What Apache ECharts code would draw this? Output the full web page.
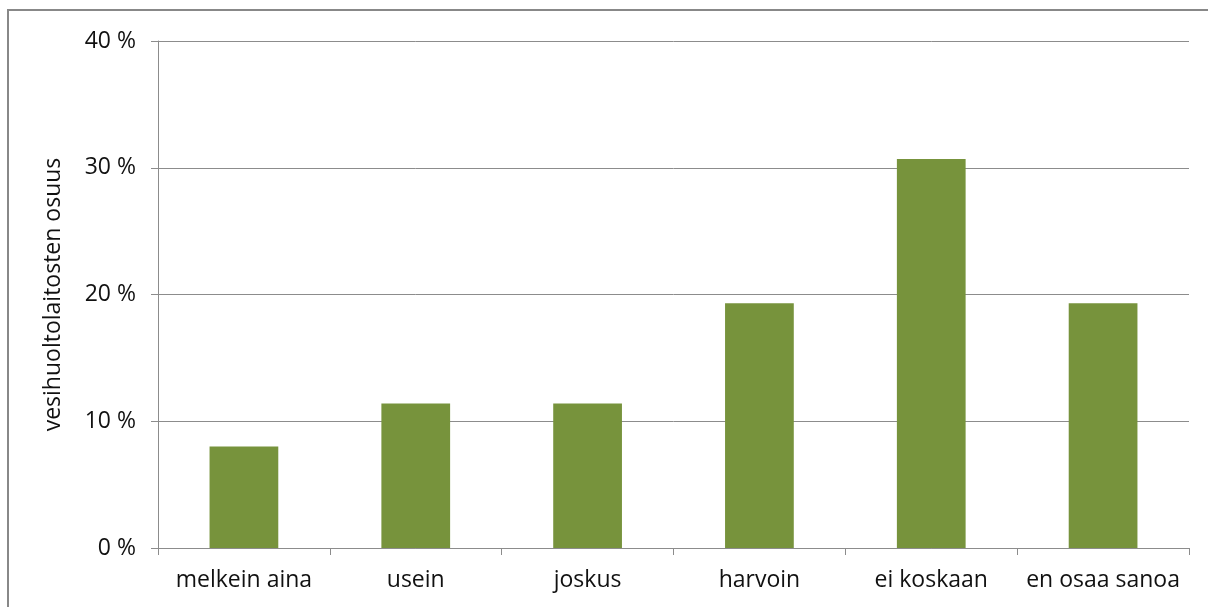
<!DOCTYPE html>
<html>
<head>
<meta charset="utf-8">
<script src="https://cdn.jsdelivr.net/npm/echarts@6/dist/echarts.min.js"></script>
<style>
  html, body { margin: 0; padding: 0; background: #fff; }
  #chart { width: 1208px; height: 607px; }
</style>
</head>
<body>
<div id="chart"></div>
<script>
// Vastausvaihtoehdot ja vesihuoltolaitosten osuudet (%)
const categories = ['melkein aina', 'usein', 'joskus', 'harvoin', 'ei koskaan', 'en osaa sanoa'];
const shares = [8.0, 11.4, 11.4, 19.3, 30.7, 19.3];
const yTicks = [0, 10, 20, 30, 40];
const yAxisTitle = 'vesihuoltolaitosten osuus';

const FONT = '"Open Sans", Lato, sans-serif';
const GREY = '#8c8c8c';

const chart = echarts.init(document.getElementById('chart'), null, { renderer: 'canvas' });
chart.setOption({
  backgroundColor: '#ffffff',
  animation: false,
  graphic: [{
    type: 'rect',
    shape: { x: 8, y: 10, width: 1220, height: 620 },
    style: { fill: 'none', stroke: '#888888', lineWidth: 2 },
    silent: true
  }],
  grid: { left: 158, right: 19, top: 41, bottom: 59, containLabel: false },
  xAxis: {
    type: 'category',
    data: categories,
    axisLine: { show: true, lineStyle: { color: GREY, width: 1 } },
    axisTick: { show: true, length: 7, interval: 0, alignWithLabel: false, lineStyle: { color: GREY } },
    axisLabel: { color: '#111', fontFamily: FONT, fontSize: 23, margin: 21, interval: 0 },
    splitLine: { show: false }
  },
  yAxis: {
    type: 'value',
    min: yTicks[0],
    max: yTicks[yTicks.length - 1],
    interval: 10,
    name: yAxisTitle,
    nameLocation: 'middle',
    nameRotate: 90,
    nameGap: 93,
    nameTextStyle: { color: '#111', fontFamily: FONT, fontSize: 23 },
    axisLine: { show: true, lineStyle: { color: GREY, width: 1 } },
    axisTick: { show: true, length: 7, lineStyle: { color: GREY } },
    axisLabel: {
      color: '#111', fontFamily: FONT, fontSize: 23, margin: 22,
      formatter: v => v + ' %'
    },
    splitLine: { show: true, lineStyle: { color: GREY, width: 1 } }
  },
  series: [{
    type: 'bar',
    data: shares,
    barWidth: '40%',
    itemStyle: { color: '#77933c' },
    silent: true
  }]
});
</script>
</body>
</html>
